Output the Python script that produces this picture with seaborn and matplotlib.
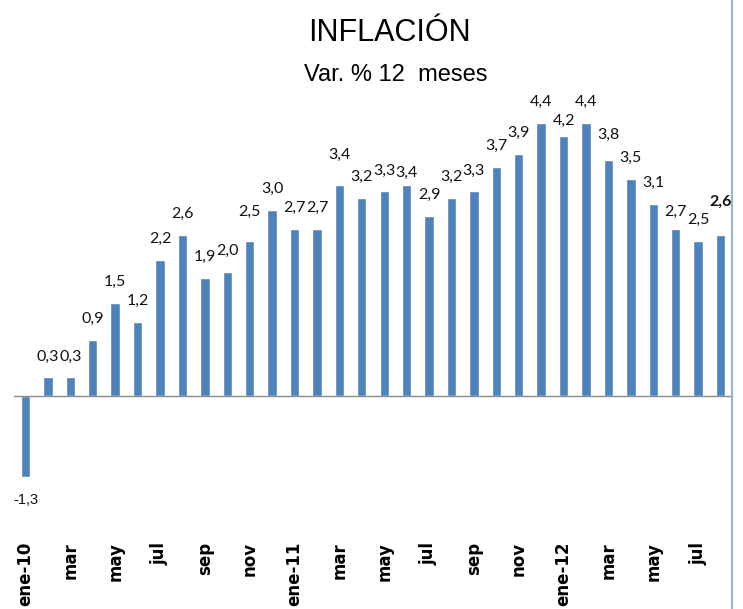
import numpy as np
import pandas as pd
import matplotlib
matplotlib.use("Agg")
import matplotlib.pyplot as plt
from matplotlib.lines import Line2D
import seaborn as sns

months = ["ene-10", "feb-10", "mar-10", "abr-10", "may-10", "jun-10", "jul-10", "ago-10",
          "sep-10", "oct-10", "nov-10", "dic-10",
          "ene-11", "feb-11", "mar-11", "abr-11", "may-11", "jun-11", "jul-11", "ago-11",
          "sep-11", "oct-11", "nov-11", "dic-11",
          "ene-12", "feb-12", "mar-12", "abr-12", "may-12", "jun-12", "jul-12", "ago-12"]
values = [-1.3, 0.3, 0.3, 0.9, 1.5, 1.2, 2.2, 2.6, 1.9, 2.0, 2.5, 3.0,
          2.7, 2.7, 3.4, 3.2, 3.3, 3.4, 2.9, 3.2, 3.3, 3.7, 3.9, 4.4,
          4.2, 4.4, 3.8, 3.5, 3.1, 2.7, 2.5, 2.6]
tick_labels = ["ene-10", "mar", "may", "jul", "sep", "nov",
               "ene-11", "mar", "may", "jul", "sep", "nov",
               "ene-12", "mar", "may", "jul"]
title = "INFLACIÓN"
subtitle = "Var. % 12  meses"

df = pd.DataFrame({"mes": months, "var": values})

sns.set_style("white")
plt.rcParams["font.family"] = ["DejaVu Sans"]
plt.rcParams["text.color"] = "black"
plt.rcParams["xtick.labelcolor"] = "black"

W, H = 743, 609
fig = plt.figure(figsize=(W / 100, H / 100), dpi=100)
left_px, right_px, top_px, bot_px = 14.3, 731.7, 86.0, 538.6
ax = fig.add_axes([left_px / W, 1 - bot_px / H, (right_px - left_px) / W, (bot_px - top_px) / H])

bar_color = "#4F81BD"
sns.barplot(data=df, x="mes", y="var", order=months, color=bar_color,
            width=0.42, saturation=1, ax=ax)
ax.set_ylim(-2.3, 5.0)
ax.set_xlim(-0.5, len(months) - 0.5)

for s in ["left", "top", "right"]:
    ax.spines[s].set_visible(False)
ax.spines["bottom"].set_position(("data", 0))
ax.spines["bottom"].set_color("#8c8c8c")
ax.spines["bottom"].set_linewidth(1.0)

ax.set_yticks([])
ax.set_xlabel("")
ax.set_ylabel("")
ax.set_xticks(range(0, len(months), 2))
ax.set_xticklabels(tick_labels, rotation=90, fontweight="bold", fontsize=12,
                   family=["DejaVu Sans"])
ax.set_xticks(np.arange(-0.5, len(months), 1), minor=True)
ax.tick_params(axis="x", which="minor", length=6, width=1, color="#8c8c8c", direction="out")
ax.tick_params(axis="x", which="major", length=0, pad=105)

# vertical offset (pixels) of the value labels; a few were moved by hand in the original
label_dy = {10: 29, 14: 30, 17: 12, 24: 15, 26: 26, 29: 17, 31: 33}

for i, v in enumerate(values):
    txt = f"{v:.1f}".replace(".", ",")
    last = i == len(values) - 1
    if v >= 0:
        t = ax.annotate(txt, (i, v), xytext=(0, label_dy.get(i, 21)), textcoords="offset pixels",
                        ha="center", va="center", fontsize=11.5,
                        fontweight="bold" if last else "normal",
                        family=["Lato", "DejaVu Sans"], color="#111111")
    else:
        t = ax.annotate(txt, (i, v), xytext=(0, -23), textcoords="offset pixels",
                        ha="center", va="center", fontsize=10.5,
                        family=["Liberation Sans Narrow", "Liberation Sans", "DejaVu Sans"],
                        color="#111111")
    t.set_clip_on(True)
    t.set_clip_box(fig.bbox)

fig.text(389 / W, 1 - 41 / H, title, ha="center", va="baseline", fontsize=22,
         family=["Liberation Sans Narrow", "Liberation Sans", "DejaVu Sans"], color="black")
fig.text(396 / W, 1 - 81 / H, subtitle, ha="center", va="baseline", fontsize=17,
         family=["Liberation Sans Narrow", "Liberation Sans", "DejaVu Sans"], color="black")

fig.add_artist(Line2D([732 / W, 732 / W], [0, 1], color="#95B3D7", lw=1.5,
                      transform=fig.transFigure))

fig.savefig("out.png", dpi=100)
